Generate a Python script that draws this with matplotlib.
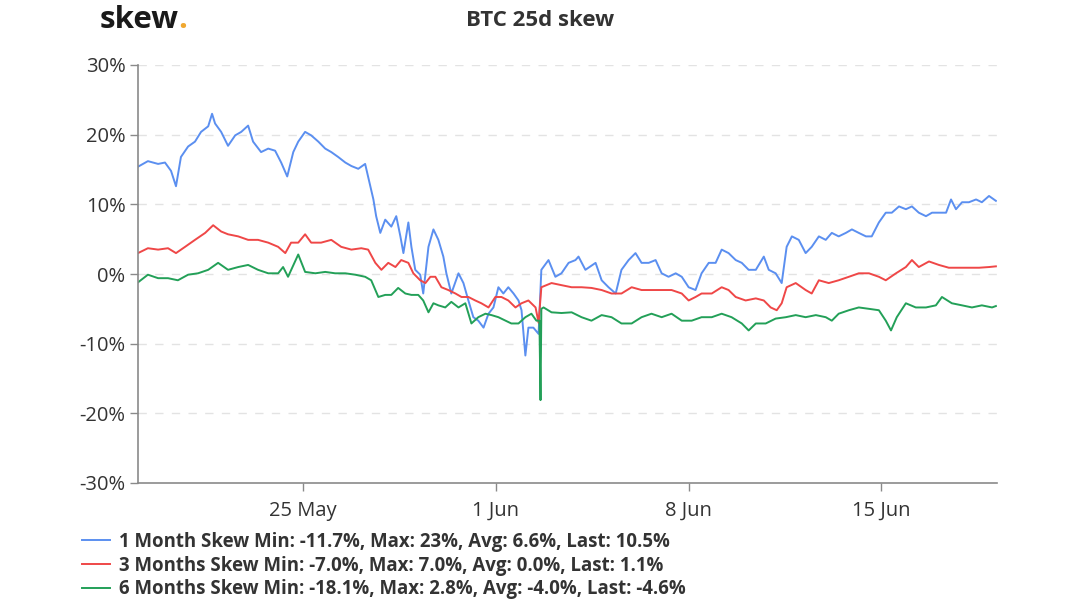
import matplotlib
matplotlib.use("Agg")
import matplotlib.pyplot as plt
import pandas as pd

# ---------------- data (days since 2020-05-19 00:00, value in %) ----------------
start = pd.Timestamp("2020-05-19 00:00")

t_1m = [0, 0.36, 0.73, 0.98, 1.2, 1.38, 1.56, 1.82, 2.07, 2.29, 2.55, 2.69, 2.8, 3.02, 3.27,
        3.53, 3.75, 4.0, 4.18, 4.47, 4.73, 4.98, 5.2, 5.42, 5.64, 5.82, 6.07, 6.29, 6.55, 6.8,
        7.02, 7.27, 7.53, 7.75, 8.0, 8.25, 8.44, 8.55, 8.65, 8.8, 8.98, 9.2, 9.38, 9.53, 9.64,
        9.82, 9.93, 10.07, 10.25, 10.36, 10.55, 10.73, 10.91, 11.09, 11.2, 11.38, 11.64, 11.82,
        12.0, 12.18, 12.36, 12.55, 12.73, 12.91, 13.09, 13.27, 13.45, 13.64, 13.82, 13.93, 14.07,
        14.18, 14.36, 14.55, 14.65, 14.91, 15.16, 15.38, 15.64, 15.89, 16.0, 16.25, 16.62, 16.84,
        17.09, 17.35, 17.56, 17.82, 18.07, 18.29, 18.55, 18.8, 19.02, 19.27, 19.53, 19.75, 20.0,
        20.25, 20.47, 20.73, 20.98, 21.2, 21.45, 21.71, 21.93, 22.18, 22.44, 22.73, 22.91, 23.16,
        23.38, 23.56, 23.75, 24.0, 24.25, 24.47, 24.73, 24.98, 25.2, 25.45, 25.71, 25.93, 26.18,
        26.44, 26.65, 26.91, 27.16, 27.38, 27.64, 27.89, 28.11, 28.36, 28.62, 28.84, 29.09, 29.35,
        29.53, 29.71, 29.93, 30.18, 30.44, 30.65, 30.91, 31.16]
v_1m = [15.4, 16.2, 15.8, 16.0, 14.8, 12.6, 16.8, 18.3, 19.0, 20.4, 21.2, 23.0, 21.6, 20.4, 18.4,
        19.9, 20.4, 21.3, 19.0, 17.5, 18.0, 17.7, 16.0, 14.0, 17.5, 19.0, 20.4, 19.9, 19.0, 18.0,
        17.5, 16.8, 16.0, 15.5, 15.1, 15.8, 12.6, 10.7, 8.3, 5.9, 7.8, 6.8, 8.3, 5.4, 3.0,
        7.4, 3.9, 0.6, -0.1, -2.8, 3.9, 6.4, 4.9, 2.5, 0.1, -2.8, 0.1, -1.3,
        -3.8, -6.2, -6.7, -7.7, -5.7, -4.8, -1.9, -2.8, -1.9, -2.8, -3.8, -5.2, -11.7,
        -7.7, -7.7, -8.6, 0.6, 2.0, -0.4, 0.1, 1.6, 2.0, 2.5, 0.6, 1.6, -0.9,
        -1.9, -2.8, 0.6, 2.0, 3.0, 1.6, 1.6, 2.0, 0.1, -0.4, 0.1, -0.4, -1.9,
        -2.3, 0.1, 1.6, 1.6, 3.5, 3.0, 2.0, 1.6, 0.6, 0.6, 2.5, 0.6, 0.1,
        -1.3, 3.9, 5.4, 4.9, 3.0, 3.9, 5.4, 4.9, 5.9, 5.4, 5.9, 6.4, 5.9,
        5.4, 5.4, 7.4, 8.8, 8.8, 9.7, 9.3, 9.7, 8.8, 8.3, 8.8, 8.8, 8.8,
        10.7, 9.3, 10.3, 10.3, 10.7, 10.3, 11.2, 10.5]

t_3m = [0, 0.36, 0.73, 1.09, 1.38, 1.71, 2.07, 2.44, 2.73, 3.02, 3.27, 3.64, 4.0, 4.36, 4.73,
        5.09, 5.35, 5.56, 5.82, 6.07, 6.29, 6.65, 7.02, 7.38, 7.75, 8.11, 8.36, 8.62, 8.84, 9.09,
        9.35, 9.56, 9.82, 10.0, 10.25, 10.44, 10.62, 10.8, 11.02, 11.27, 11.53, 11.75, 12.0,
        12.25, 12.47, 12.73, 12.98, 13.2, 13.45, 13.71, 13.93, 14.18, 14.44, 14.55, 14.65, 15.02,
        15.38, 15.75, 16.11, 16.47, 16.84, 17.2, 17.56, 17.93, 18.29, 18.65, 19.02, 19.38, 19.75,
        20.0, 20.25, 20.47, 20.84, 21.2, 21.45, 21.71, 22.07, 22.44, 22.73, 22.98, 23.2, 23.38,
        23.56, 23.89, 24.25, 24.47, 24.73, 25.09, 25.45, 25.82, 26.18, 26.55, 26.91, 27.16, 27.53,
        27.89, 28.11, 28.36, 28.73, 29.09, 29.45, 29.82, 30.18, 30.55, 30.91, 31.16]
v_3m = [3.0, 3.7, 3.5, 3.7, 3.0, 3.9, 4.9, 5.9, 7.0, 6.1, 5.7, 5.4, 4.9, 4.9, 4.5,
        3.9, 3.0, 4.5, 4.5, 5.7, 4.5, 4.5, 4.9, 3.9, 3.5, 3.7, 3.5, 1.6, 0.6, 1.6,
        1.0, 2.0, 1.6, 0.1, -0.9, -1.3, -0.4, -0.4, -1.9, -2.3, -2.8, -3.3, -3.3,
        -3.8, -4.2, -4.8, -3.3, -3.3, -3.8, -4.8, -4.2, -3.8, -4.8, -7.0, -1.9, -1.3,
        -1.6, -1.9, -1.9, -2.0, -2.3, -2.8, -2.8, -1.9, -2.3, -2.3, -2.3, -2.3, -2.8,
        -3.8, -3.3, -2.8, -2.8, -1.9, -2.3, -3.3, -3.8, -3.5, -3.8, -4.8, -5.2, -4.2,
        -1.9, -1.3, -2.3, -2.8, -0.9, -1.3, -0.9, -0.4, 0.1, 0.1, -0.4, -0.9, 0.1,
        1.0, 2.0, 1.0, 1.8, 1.3, 0.9, 0.9, 0.9, 0.9, 1.0, 1.1]

t_6m = [0, 0.36, 0.73, 1.09, 1.45, 1.82, 2.18, 2.55, 2.91, 3.27, 3.64, 4.0, 4.36, 4.73, 5.09,
        5.27, 5.45, 5.82, 6.07, 6.44, 6.8, 7.16, 7.53, 7.89, 8.25, 8.47, 8.73, 8.98, 9.2, 9.45,
        9.71, 9.93, 10.18, 10.36, 10.55, 10.73, 10.91, 11.16, 11.38, 11.64, 11.89, 12.11, 12.36,
        12.62, 12.84, 13.09, 13.35, 13.56, 13.82, 14.07, 14.29, 14.47, 14.58, 14.62, 14.65, 14.73,
        15.02, 15.38, 15.75, 16.11, 16.47, 16.84, 17.2, 17.56, 17.93, 18.29, 18.65, 19.02, 19.38,
        19.75, 20.11, 20.47, 20.84, 21.2, 21.56, 21.93, 22.18, 22.44, 22.8, 23.16, 23.53, 23.89,
        24.25, 24.62, 24.98, 25.2, 25.45, 25.82, 26.18, 26.55, 26.91, 27.16, 27.35, 27.56, 27.89,
        28.25, 28.62, 28.98, 29.2, 29.56, 29.93, 30.29, 30.65, 31.02, 31.16]
v_6m = [-1.2, -0.1, -0.6, -0.6, -0.9, -0.1, 0.1, 0.6, 1.6, 0.6, 1.0, 1.3, 0.6, 0.1, 0.1,
        1.0, -0.4, 2.8, 0.3, 0.1, 0.3, 0.1, 0.1, -0.1, -0.4, -0.9, -3.3, -3.0, -3.0, -2.0,
        -2.8, -3.0, -3.0, -3.8, -5.5, -4.2, -4.5, -4.8, -4.0, -4.8, -4.2, -7.1, -6.2,
        -5.7, -5.9, -6.2, -6.7, -7.1, -7.1, -6.2, -5.7, -6.7, -6.7, -18.1, -5.0, -4.8,
        -5.5, -5.6, -5.5, -6.2, -6.7, -5.9, -6.2, -7.1, -7.1, -6.2, -5.7, -6.2, -5.7,
        -6.7, -6.7, -6.2, -6.2, -5.7, -6.2, -7.1, -8.1, -7.1, -7.1, -6.4, -6.2, -5.9,
        -6.2, -5.9, -6.2, -6.7, -5.7, -5.2, -4.8, -5.0, -5.2, -6.7, -8.1, -6.2, -4.2,
        -4.8, -4.8, -4.5, -3.3, -4.2, -4.5, -4.8, -4.5, -4.8, -4.6]

labels = [
    "1 Month Skew Min: -11.7%, Max: 23%, Avg: 6.6%, Last: 10.5%",
    "3 Months Skew Min: -7.0%, Max: 7.0%, Avg: 0.0%, Last: 1.1%",
    "6 Months Skew Min: -18.1%, Max: 2.8%, Avg: -4.0%, Last: -4.6%",
]
y_ticks = [-30, -20, -10, 0, 10, 20, 30]
x_tick_dates = ["2020-05-25", "2020-06-01", "2020-06-08", "2020-06-15"]
x_tick_labels = ["25 May", "1 Jun", "8 Jun", "15 Jun"]
title = "BTC 25d skew"

colors = ["#5b8ff0", "#ef4747", "#23a058"]

# ---------------- figure ----------------
plt.rcParams["font.family"] = ["Open Sans", "DejaVu Sans"]
fig = plt.figure(figsize=(10.8, 6.03), dpi=100)
ax = fig.add_axes([138 / 1080, 1 - 483 / 603, (997 - 138) / 1080, (483 - 65) / 603])

def to_dates(ts):
    return [start + pd.Timedelta(days=d) for d in ts]

series = [(t_1m, v_1m), (t_3m, v_3m), (t_6m, v_6m)]
handles = []
for (t, v), c, lab in zip(series, colors, labels):
    h, = ax.plot(to_dates(t), v, color=c, lw=1.4, label=lab, solid_joinstyle="round")
    handles.append(h)

ax.set_ylim(-30, 30)
ax.set_xlim(start, start + pd.Timedelta(days=31.2))
ax.set_yticks(y_ticks)
ax.set_yticklabels([f"{v}%" for v in y_ticks])
ax.set_xticks([pd.Timestamp(d) for d in x_tick_dates])
ax.set_xticklabels(x_tick_labels)

for y in y_ticks:
    if y != -30:
        ax.axhline(y, color="#e3e3e3", lw=1.0, ls=(0, (6, 6)), zorder=0)

for s in ["top", "right"]:
    ax.spines[s].set_visible(False)
for s in ["left", "bottom"]:
    ax.spines[s].set_color("#8a8a8a")
    ax.spines[s].set_linewidth(1.2)

ax.tick_params(axis="y", length=6, width=1.0, color="#8a8a8a", labelsize=14.5,
               labelcolor="#333333", pad=3)
ax.tick_params(axis="x", length=6, width=1.0, color="#8a8a8a", labelsize=14.5,
               labelcolor="#333333", pad=7)

# title and logo
fig.text(540 / 1080, 1 - 20 / 603, title, ha="center", va="center",
         fontsize=16, fontweight="bold", color="#333333")
logo = fig.text(100 / 1080, 1 - 20 / 603, "skew", ha="left", va="center",
                fontsize=22.5, fontweight="bold", color="#1a1a1a")
fig.canvas.draw()
bb = logo.get_window_extent()
fig.text((bb.x1 - 1) / 1080, 1 - 20 / 603, ".", ha="left", va="center",
         fontsize=22.5, fontweight="bold", color="#f0a830")

# legend
leg = fig.legend(handles=handles, loc="upper left", bbox_to_anchor=(82 / 1080, 1 - 532 / 603),
                 frameon=False, handlelength=1.5, handletextpad=0.5, labelspacing=0.2,
                 prop={"size": 13.4, "weight": "bold"}, borderaxespad=0, borderpad=0)
for txt in leg.get_texts():
    txt.set_color("#333333")

fig.savefig("out.png", dpi=100)
